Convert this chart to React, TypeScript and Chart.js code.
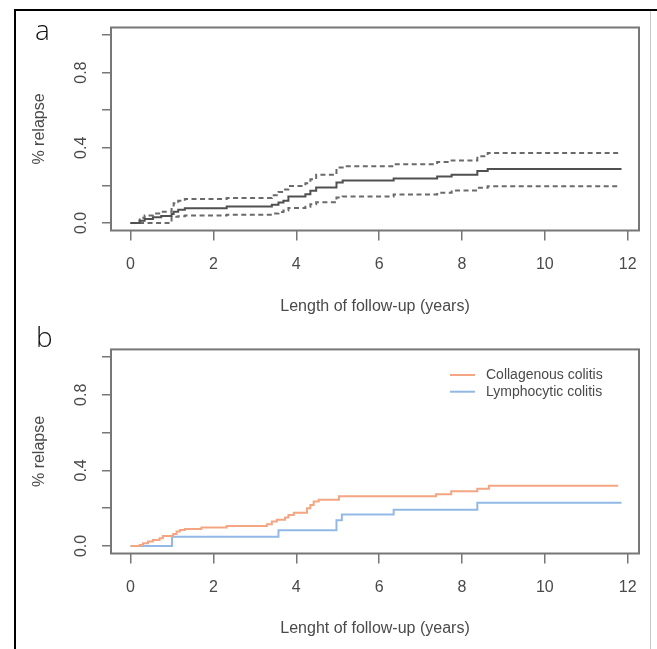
import React, { useEffect, useRef } from 'react';
import { Chart, registerables } from 'chart.js';

Chart.register(...registerables);

// ---------- axis ticks ----------
const X_TICKS = [0, 2, 4, 6, 8, 10, 12];
const Y_TICKS = [0, 0.2, 0.4, 0.6, 0.8, 1.0];
const Y_LABELLED = [0, 0.4, 0.8];
const X_RANGE = [-0.472, 12.272];
const Y_RANGE = [-0.04, 1.04];

// ---------- panel a: overall cumulative relapse with 95% CI ----------
const A_TIMES = [0.22, 0.34, 0.54, 0.74, 0.99, 1.04, 1.15, 1.31, 2.32, 3.41, 3.57, 3.69, 3.81, 4.22, 4.34, 4.48, 4.97, 5.12, 6.35, 7.4, 7.75, 8.37, 8.62];
const A_EST = [0.012, 0.021, 0.03, 0.037, 0.048, 0.06, 0.07, 0.078, 0.088, 0.097, 0.109, 0.118, 0.141, 0.153, 0.171, 0.189, 0.216, 0.226, 0.236, 0.247, 0.256, 0.276, 0.287];
const A_UPPER = [0.028, 0.04, 0.05, 0.06, 0.08, 0.105, 0.118, 0.128, 0.133, 0.148, 0.165, 0.178, 0.197, 0.212, 0.232, 0.256, 0.295, 0.302, 0.313, 0.324, 0.333, 0.355, 0.372];
const A_LOWER = [0, 0, 0, 0, 0.03, 0.033, 0.036, 0.04, 0.044, 0.05, 0.058, 0.066, 0.08, 0.087, 0.1, 0.11, 0.135, 0.141, 0.152, 0.161, 0.173, 0.187, 0.196];
const A_END_EST = 11.85;
const A_END_CI = 11.77;

// ---------- panel b: by subtype ----------
const SERIES_B = ['Collagenous colitis', 'Lymphocytic colitis'];
const CC_TIMES = [0.22, 0.3, 0.42, 0.54, 0.7, 0.78, 1.03, 1.11, 1.19, 1.31, 1.71, 2.32, 3.29, 3.41, 3.53, 3.73, 3.81, 3.94, 4.26, 4.34, 4.42, 4.54, 5.03, 7.37, 7.74, 8.37, 8.65];
const CC_VALUES = [0.005, 0.014, 0.023, 0.032, 0.041, 0.053, 0.063, 0.076, 0.085, 0.09, 0.097, 0.106, 0.115, 0.129, 0.138, 0.15, 0.164, 0.176, 0.199, 0.217, 0.235, 0.245, 0.263, 0.274, 0.29, 0.302, 0.318];
const CC_END = 11.77;
const LC_TIMES = [1.0, 3.57, 4.97, 5.1, 6.35, 8.37];
const LC_VALUES = [0.049, 0.083, 0.136, 0.166, 0.192, 0.228];
const LC_END = 11.85;

const FONT = '"Liberation Sans", Arial, Helvetica, sans-serif';
const TEXT = '#4a4a4a';
const AXIS = '#777777';

type Pt = { x: number; y: number };

function stepPoints(times: number[], values: number[], end: number): Pt[] {
  const pts: Pt[] = [{ x: 0, y: 0 }];
  let prev = 0;
  times.forEach((t, i) => {
    pts.push({ x: t, y: prev });
    pts.push({ x: t, y: values[i] });
    prev = values[i];
  });
  pts.push({ x: end, y: prev });
  return pts;
}

const boxPlugin = {
  id: 'rbox',
  afterDraw(chart: any) {
    const { ctx, chartArea: a } = chart;
    ctx.save();
    ctx.strokeStyle = AXIS;
    ctx.lineWidth = 2;
    ctx.strokeRect(a.left, a.top, a.right - a.left, a.bottom - a.top);
    ctx.restore();
  },
};

const panelLabelPlugin = {
  id: 'panelLabel',
  afterDraw(chart: any, _args: any, opts: any) {
    const { ctx } = chart;
    ctx.save();
    ctx.fillStyle = '#111';
    ctx.font = '300 28px "Open Sans", "DejaVu Sans", sans-serif';
    ctx.textBaseline = 'alphabetic';
    ctx.textAlign = 'left';
    ctx.fillText(opts.text, opts.x, opts.y);
    ctx.restore();
  },
};

const rLegendPlugin = {
  id: 'rLegend',
  afterDraw(chart: any, _args: any, opts: any) {
    const { ctx } = chart;
    ctx.save();
    chart.data.datasets.forEach((ds: any, i: number) => {
      const y = opts.y + i * opts.gap;
      ctx.strokeStyle = ds.borderColor;
      ctx.lineWidth = 2;
      ctx.beginPath();
      ctx.moveTo(opts.x, y);
      ctx.lineTo(opts.x + opts.len, y);
      ctx.stroke();
      ctx.fillStyle = TEXT;
      ctx.font = `14px ${FONT}`;
      ctx.textBaseline = 'middle';
      ctx.textAlign = 'left';
      ctx.fillText(ds.label, opts.x + opts.len + opts.textGap, y);
    });
    ctx.restore();
  },
};

type PanelSpec = {
  datasets: any[];
  xTitle: string;
  canvasH: number;
  chartTop: number;
  chartBottom: number;
  xTitlePad: number;
  label: { text: string; x: number; y: number };
  legend?: { x: number; y: number; gap: number; len: number; textGap: number };
};

function buildConfig(p: PanelSpec): any {
  const plugins: any[] = [boxPlugin, panelLabelPlugin];
  if (p.legend) plugins.push(rLegendPlugin);
  return {
    type: 'line',
    data: { datasets: p.datasets },
    plugins,
    options: {
      animation: false,
      responsive: false,
      devicePixelRatio: 1,
      events: [],
      layout: { padding: { left: 0, right: 18, top: p.chartTop, bottom: 0 } },
      elements: { point: { radius: 0 }, line: { tension: 0 } },
      plugins: {
        legend: { display: false },
        tooltip: { enabled: false },
        panelLabel: p.label,
        rLegend: p.legend || {},
      },
      scales: {
        x: {
          type: 'linear',
          min: X_RANGE[0],
          max: X_RANGE[1],
          afterBuildTicks: (s: any) => {
            s.ticks = X_TICKS.map((v) => ({ value: v }));
          },
          afterFit: (s: any) => {
            s.height = p.canvasH - p.chartBottom;
          },
          border: { display: false },
          grid: { display: true, drawOnChartArea: false, drawTicks: true, tickLength: 10, color: AXIS, lineWidth: 1.5 },
          ticks: {
            autoSkip: false,
            maxRotation: 0,
            minRotation: 0,
            padding: 14,
            color: TEXT,
            font: { family: FONT, size: 16 },
            callback: (v: any) => String(v),
          },
          title: {
            display: true,
            text: p.xTitle,
            color: TEXT,
            font: { family: FONT, size: 16 },
            padding: { top: 0, bottom: p.xTitlePad },
          },
        },
        y: {
          type: 'linear',
          min: Y_RANGE[0],
          max: Y_RANGE[1],
          afterBuildTicks: (s: any) => {
            s.ticks = Y_TICKS.map((v) => ({ value: v }));
          },
          afterFit: (s: any) => {
            s.width = 111;
          },
          border: { display: false },
          grid: { display: true, drawOnChartArea: false, drawTicks: true, tickLength: 9, color: AXIS, lineWidth: 1.5 },
          ticks: {
            autoSkip: false,
            minRotation: 90,
            maxRotation: 90,
            crossAlign: 'center',
            padding: 9,
            color: TEXT,
            font: { family: FONT, size: 16 },
            callback: (v: any) => (Y_LABELLED.includes(v) ? Number(v).toFixed(1) : ''),
          },
          title: {
            display: true,
            text: '% relapse',
            color: TEXT,
            font: { family: FONT, size: 16 },
            padding: { top: 30.4, bottom: 0 },
          },
        },
      },
    },
  };
}

function Panel({ top, spec }: { top: number; spec: () => PanelSpec }) {
  const ref = useRef<HTMLCanvasElement>(null);
  const s = spec();
  useEffect(() => {
    const chart = new Chart(ref.current as HTMLCanvasElement, buildConfig(spec()));
    return () => chart.destroy();
  }, []);
  return (
    <div style={{ position: 'absolute', left: 0, top, width: 657, height: s.canvasH }}>
      <canvas ref={ref} width={657} height={s.canvasH} style={{ display: 'block', width: 657, height: s.canvasH }} />
    </div>
  );
}

const specA = (): PanelSpec => ({
  canvasH: 320,
  chartTop: 27.5,
  chartBottom: 230.5,
  xTitle: 'Length of follow-up (years)',
  xTitlePad: 3.4,
  label: { text: 'a', x: 35, y: 39.5 },
  datasets: [
    {
      label: 'Overall',
      data: stepPoints(A_TIMES, A_EST, A_END_EST),
      borderColor: '#505050',
      borderWidth: 2,
      fill: false,
    },
    {
      label: 'Upper 95% CI',
      data: stepPoints(A_TIMES, A_UPPER, A_END_CI),
      borderColor: '#6a6a6a',
      borderWidth: 2,
      borderDash: [5, 3.5],
      fill: false,
    },
    {
      label: 'Lower 95% CI',
      data: stepPoints(A_TIMES, A_LOWER, A_END_CI),
      borderColor: '#6a6a6a',
      borderWidth: 2,
      borderDash: [5, 3.5],
      fill: false,
    },
  ],
});

const specB = (): PanelSpec => ({
  canvasH: 329,
  chartTop: 29.4,
  chartBottom: 233.5,
  xTitle: 'Lenght of follow-up (years)',
  xTitlePad: 11,
  label: { text: 'b', x: 36, y: 26.7 },
  legend: { x: 450, y: 55, gap: 16.7, len: 25, textGap: 11 },
  datasets: [
    {
      label: SERIES_B[0],
      data: stepPoints(CC_TIMES, CC_VALUES, CC_END),
      borderColor: '#F4A582',
      borderWidth: 2,
      fill: false,
    },
    {
      label: SERIES_B[1],
      data: stepPoints(LC_TIMES, LC_VALUES, LC_END),
      borderColor: '#92B9E6',
      borderWidth: 2,
      fill: false,
    },
  ],
});

export default function App() {
  return (
    <div style={{ position: 'absolute', left: 0, top: 0, width: 657, height: 649, background: '#fff', overflow: 'hidden' }}>
      <div style={{ position: 'absolute', left: 14, top: 9, width: 643, height: 700, borderLeft: '2px solid #000', borderTop: '2px solid #000', boxSizing: 'border-box' }} />
      <div style={{ position: 'absolute', left: 650, top: 11, width: 1, height: 700, background: '#c8c8c8' }} />
      <Panel top={0} spec={specA} />
      <Panel top={320} spec={specB} />
    </div>
  );
}
